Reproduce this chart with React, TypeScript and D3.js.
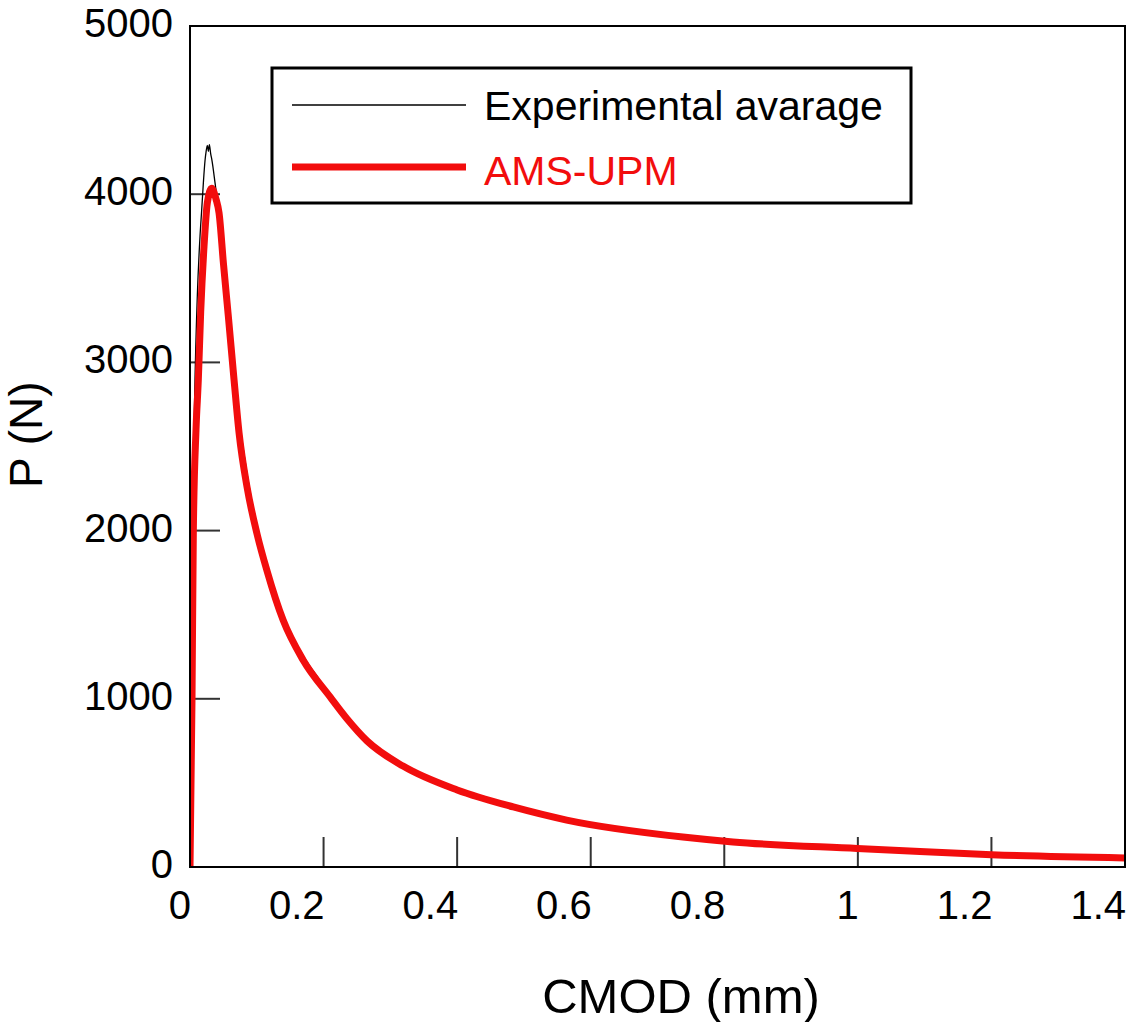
import React from 'react';
import * as d3 from 'd3';

// CMOD (mm) / P (N)
const expCmod = [0, 0.002, 0.004, 0.007, 0.011, 0.015, 0.0175, 0.02, 0.0225, 0.024, 0.026, 0.0275, 0.029, 0.031, 0.0325, 0.0375, 0.0425, 0.048, 0.054, 0.061, 0.07, 0.08, 0.09, 0.105, 0.12, 0.145, 0.175, 0.193];
const expLoad = [0, 1000, 2000, 2800, 3400, 3750, 3906, 4067, 4200, 4250, 4290, 4255, 4295, 4240, 4210, 4067, 3906, 3700, 3450, 3150, 2780, 2480, 2230, 1950, 1700, 1440, 1220, 1120];

const amsCmod = [0, 0.003, 0.005, 0.009, 0.0125, 0.016, 0.021, 0.026, 0.0325, 0.039, 0.0435, 0.05, 0.0575, 0.066, 0.0735, 0.0854, 0.1004, 0.1154, 0.1394, 0.1693, 0.2098, 0.2353, 0.265, 0.319, 0.4, 0.484, 0.564, 0.738, 0.813, 0.999, 1.093, 1.2, 1.4];
const amsLoad = [0, 1000, 2000, 2600, 2900, 3300, 3690, 3950, 4035, 3970, 3888, 3591, 3270, 2895, 2580, 2259, 1980, 1760, 1468, 1231, 1011, 880, 750, 600, 458, 357, 279, 178, 149, 110, 92, 73, 54];

const xTicks = [0, 0.2, 0.4, 0.6, 0.8, 1, 1.2, 1.4];
const yTicks = [0, 1000, 2000, 3000, 4000, 5000];

const FONT = '"Liberation Sans", Arial, Helvetica, sans-serif';

export default function App() {
  const width = 1127;
  const height = 1022;
  const margin = { left: 190, right: 2, top: 26, bottom: 155 };

  const x = d3.scaleLinear().domain([0, 1.4]).range([margin.left, width - margin.right]);
  const y = d3.scaleLinear().domain([0, 5000]).range([height - margin.bottom, margin.top]);

  const line = d3
    .line<[number, number]>()
    .x((d) => x(d[0]))
    .y((d) => y(d[1]))
    .curve(d3.curveMonotoneX);

  const exp = expCmod.map((c, i) => [c, expLoad[i]] as [number, number]);
  const ams = amsCmod.map((c, i) => [c, amsLoad[i]] as [number, number]);

  const x0 = x(0);
  const x1 = x(1.4);
  const y0 = y(0);
  const y1 = y(5000);
  const tickLen = 30;

  return (
    <svg
      width={width}
      height={height}
      style={{ position: 'absolute', left: 0, top: 0, background: '#fff' }}
      fontFamily={FONT}
    >
      <defs>
        <clipPath id="plot">
          <rect x={x0} y={y1} width={x1 - x0} height={y0 - y1} />
        </clipPath>
      </defs>

      {/* ticks, inward */}
      {xTicks.slice(1, -1).map((t) => (
        <line key={'xt' + t} x1={x(t)} x2={x(t)} y1={y0} y2={y0 - tickLen} stroke="#333" strokeWidth={2} />
      ))}
      {yTicks.slice(1, -1).map((t) => (
        <line key={'yt' + t} x1={x0} x2={x0 + tickLen} y1={y(t)} y2={y(t)} stroke="#333" strokeWidth={2} />
      ))}

      {/* curves */}
      <g clipPath="url(#plot)">
        <path d={line(exp) ?? ''} fill="none" stroke="#000" strokeWidth={1.3} />
        <path d={line(ams) ?? ''} fill="none" stroke="#f20d0d" strokeWidth={7} strokeLinejoin="round" />
      </g>

      {/* frame */}
      <rect x={x0} y={y1} width={x1 - x0} height={y0 - y1} fill="none" stroke="#000" strokeWidth={2} />

      {/* tick labels */}
      {xTicks.map((t) => (
        <text key={'xl' + t} x={x(t) + 1} y={919} fontSize={40} textAnchor="end" fill="#000">
          {t}
        </text>
      ))}
      {yTicks.map((t) => (
        <text key={'yl' + t} x={173} y={y(t) + 11} fontSize={40} textAnchor="end" fill="#000">
          {t}
        </text>
      ))}

      {/* axis titles */}
      <text x={681} y={1013} fontSize={49} textAnchor="middle" fill="#000">
        CMOD (mm)
      </text>
      <text transform="translate(42,488) rotate(-90)" fontSize={46} fill="#000">
        P (N)
      </text>

      {/* legend */}
      <rect x={272} y={68} width={639} height={135} fill="#fff" stroke="#000" strokeWidth={3} />
      <line x1={292} x2={466} y1={105} y2={105} stroke="#000" strokeWidth={1.3} />
      <text x={484} y={120} fontSize={41} fill="#000">
        Experimental avarage
      </text>
      <line x1={292} x2={466} y1={167} y2={167} stroke="#f20d0d" strokeWidth={7} />
      <text x={484} y={185} fontSize={41} fill="#f20d0d">
        AMS-UPM
      </text>
    </svg>
  );
}
